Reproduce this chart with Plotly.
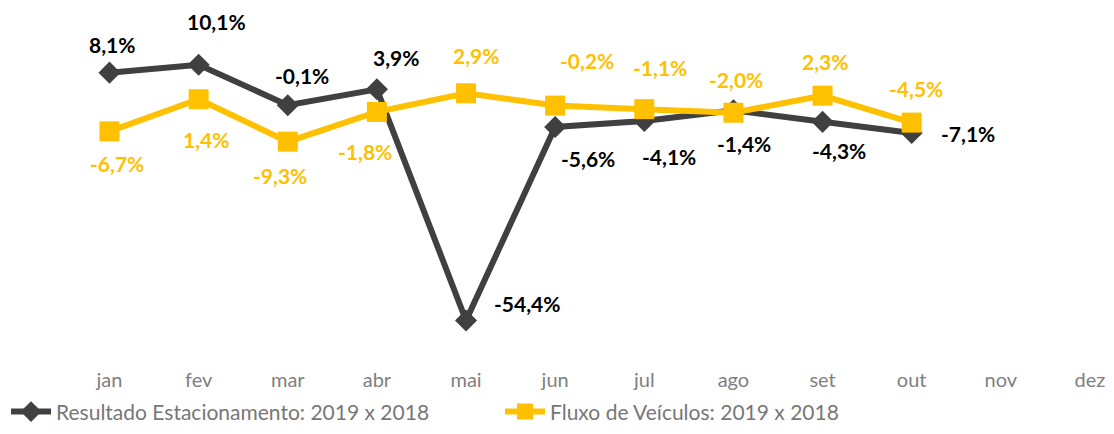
import plotly.graph_objects as go

months = ["jan", "fev", "mar", "abr", "mai", "jun", "jul", "ago", "set", "out", "nov", "dez"]
resultado = [8.1, 10.1, -0.1, 3.9, -54.4, -5.6, -4.1, -1.4, -4.3, -7.1]
fluxo = [-6.7, 1.4, -9.3, -1.8, 2.9, -0.2, -1.1, -2.0, 2.3, -4.5]
name_resultado = "Resultado Estacionamento: 2019 x 2018"
name_fluxo = "Fluxo de Veículos: 2019 x 2018"

# label offsets in pixels (dx, dy screen-down) - styling only
off_resultado = [(2, -28), (18, -43), (14, -30), (19, -32), (61, -17),
                 (33, 32), (25, 35), (11, 33), (16, 29), (56, 1)]
off_fluxo = [(7, 32), (7, 40), (-8, 34), (-12, 40), (10, -38),
             (32, -45), (16, -42), (3, -33), (2, -34), (4, -34)]

DARK = "#404040"
YELLOW = "#FFC000"
FONT = "Lato"

def fmt(v):
    return ("%.1f" % v).replace(".", ",") + "%"

fig = go.Figure()
fig.add_trace(go.Scatter(
    x=months[:len(resultado)], y=resultado, name=name_resultado,
    mode="lines+markers",
    line=dict(color=DARK, width=6),
    marker=dict(symbol="diamond", size=17, color=DARK),
    hoverinfo="skip",
))
fig.add_trace(go.Scatter(
    x=months[:len(fluxo)], y=fluxo, name=name_fluxo,
    mode="lines+markers",
    line=dict(color=YELLOW, width=6),
    marker=dict(symbol="square", size=20, color=YELLOW),
    hoverinfo="skip",
))

annotations = []
for vals, offs, col in ((resultado, off_resultado, "#000000"), (fluxo, off_fluxo, YELLOW)):
    for m, v, (dx, dy) in zip(months, vals, offs):
        annotations.append(dict(
            x=m, y=v, text="<b>%s</b>" % fmt(v), showarrow=False,
            xshift=dx, yshift=-dy,
            font=dict(family=FONT, size=21, color=col),
        ))

fig.update_layout(
    width=1098, height=418,
    margin=dict(l=0, r=0, t=4, b=61, autoexpand=False),
    paper_bgcolor="white", plot_bgcolor="white",
    annotations=annotations,
    showlegend=True,
    legend=dict(
        orientation="h", x=-0.0018, xanchor="left", y=-0.133, yanchor="middle",
        bgcolor="rgba(0,0,0,0)",
        font=dict(family=FONT, size=21, color="#777777"),
        entrywidth=439, entrywidthmode="pixels",
        itemwidth=40,
    ),
    xaxis=dict(
        type="category", categoryorder="array", categoryarray=months,
        range=[-1.1388, 11.180], showgrid=False, zeroline=False, showline=False,
        automargin=False,
        ticks="", tickfont=dict(family=FONT, size=20, color="#7f7f7f"),
        ticklabelstandoff=1,
    ),
    yaxis=dict(
        range=[-65.63, 23.40], visible=False, showgrid=False, zeroline=False,
        automargin=False,
    ),
)

fig.write_html("out.html")
